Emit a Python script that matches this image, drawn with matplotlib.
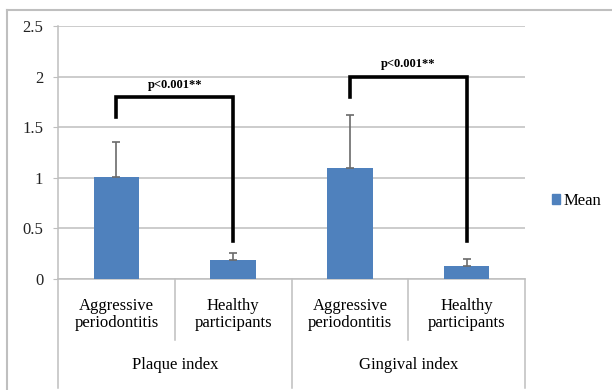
import matplotlib.pyplot as plt
from matplotlib.lines import Line2D
from matplotlib.patches import Patch

plt.rcParams['font.family'] = ['Liberation Serif', 'DejaVu Serif']

groups = ['Plaque index', 'Gingival index']
subgroups = ['Aggressive\nperiodontitis', 'Healthy\nparticipants'] * 2
means = [1.01, 0.19, 1.10, 0.13]
err_upper = [0.34, 0.07, 0.52, 0.07]
yticks = [0, 0.5, 1, 1.5, 2, 2.5]
ytick_labels = ['0', '0.5', '1', '1.5', '2', '2.5']
# brackets: x left, x right, left-leg bottom, top, right-leg bottom, label
brackets = [(0, 1, 1.60, 1.80, 0.38, 'p<0.001**'),
            (2, 3, 1.80, 2.00, 0.38, 'p<0.001**')]

bar_color = '#4F81BD'
grid_color = '#BFBFBF'

fig = plt.figure(figsize=(6.12, 3.9), dpi=100)
ax = fig.add_axes([58 / 612, 1 - 279 / 390, (525 - 58) / 612, (279 - 26) / 390])

x = list(range(len(means)))
ax.bar(x, means, width=0.39, color=bar_color, zorder=3)
ax.errorbar(x, means, yerr=[[0] * len(means), err_upper], fmt='none',
            ecolor='#6b6b6b', elinewidth=1.2, capsize=3, capthick=1.2, zorder=4)

ax.set_xlim(-0.5, 3.5)
ax.set_ylim(0, 2.5)
ax.set_yticks(yticks)
ax.set_yticklabels(ytick_labels, fontsize=12, color='#222222')
ax.yaxis.grid(True, color=grid_color, linewidth=1.1, zorder=0)
ax.set_axisbelow(True)
ax.tick_params(axis='y', length=3.6, color=grid_color, pad=7)
ax.set_xticks([])
for s in ['top', 'right']:
    ax.spines[s].set_visible(False)
ax.spines['left'].set_color(grid_color)
ax.spines['bottom'].set_color(grid_color)
ax.spines['left'].set_linewidth(1.1)
ax.spines['bottom'].set_linewidth(1.1)

trans = ax.get_xaxis_transform()
# category labels and separators
for i, lab in enumerate(subgroups):
    ax.text(i, -0.14, lab, transform=trans, ha='center', va='center',
            fontsize=12, linespacing=1.15)
for i, g in enumerate(groups):
    ax.text(2 * i + 0.5, -0.34, g, transform=trans, ha='center', va='center',
            fontsize=12)
for xs in [0.5, 2.5]:
    ax.add_line(Line2D([xs, xs], [0, -0.241], transform=trans, color=grid_color,
                       linewidth=1.1, clip_on=False))
for xs in [-0.5, 1.5, 3.5]:
    ax.add_line(Line2D([xs, xs], [0, -0.43], transform=trans, color=grid_color,
                       linewidth=1.1, clip_on=False))

# significance brackets
for x0, x1, yl, yt, yr, lab in brackets:
    ax.plot([x0, x0, x1, x1], [yl, yt, yt, yr], color='black', linewidth=2.6,
            solid_joinstyle='miter', zorder=5, clip_on=False)
    ax.text((x0 + x1) / 2, yt + 0.12, lab, ha='center', va='center',
            fontsize=9, fontweight='bold', zorder=6)

# legend
fig.legend(handles=[Patch(color=bar_color, label='Mean')], loc='center left',
           bbox_to_anchor=(537 / 612, 1 - 201 / 390), frameon=False, fontsize=12,
           handlelength=0.5, handleheight=0.5, handletextpad=0.2)

# outer chart frame
fig.add_artist(Line2D([7 / 612, 1], [1 - 10 / 390] * 2, transform=fig.transFigure,
                      color=grid_color, linewidth=1.5))
fig.add_artist(Line2D([7 / 612] * 2, [0, 1 - 10 / 390], transform=fig.transFigure,
                      color=grid_color, linewidth=1.5))

fig.savefig('out.png', dpi=100)
